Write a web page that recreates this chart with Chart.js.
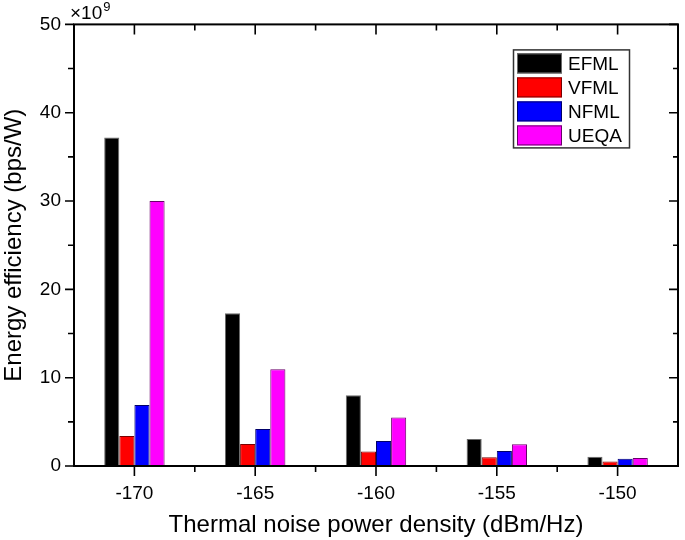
<!DOCTYPE html>
<html><head><meta charset="utf-8">
<script src="https://cdn.jsdelivr.net/npm/chart.js@4/dist/chart.umd.min.js"></script>
<style>html,body{margin:0;padding:0;background:#fff;}#wrap{width:685px;height:540px;}</style>
</head><body><div id="wrap"><canvas id="c" width="685" height="540"></canvas></div>
<script>
const categories = ['-170', '-165', '-160', '-155', '-150'];
const seriesNames = ['EFML', 'VFML', 'NFML', 'UEQA'];
const efml = [37.2, 17.3, 8.0, 3.05, 1.05];
const vfml = [3.4, 2.5, 1.65, 0.98, 0.5];
const nfml = [6.9, 4.2, 2.83, 1.7, 0.83];
const ueqa = [30.0, 10.95, 5.5, 2.45, 0.9];
const yMajorTicks = [0, 10, 20, 30, 40, 50];
const yMinorTicks = [5, 15, 25, 35, 45];
const fillColors = ['#000000', '#ff0000', '#0000ff', '#ff00ff'];
const edgeColors = ['#6a6a6a', '#7a0000', '#00006a', '#6a006a'];

const FONT = 'Arial, "Liberation Sans", sans-serif';

const framePlugin = {
  id: 'frame',
  afterDraw(chart) {
    const ctx = chart.ctx;
    const a = chart.chartArea;
    const xs = chart.scales.x, ys = chart.scales.y;
    ctx.save();
    ctx.strokeStyle = '#000';
    ctx.lineWidth = 2;
    ctx.strokeRect(a.left, a.top, a.right - a.left, a.bottom - a.top);
    ctx.lineWidth = 1.6;
    ctx.beginPath();
    const px = categories.map((c, i) => xs.getPixelForValue(i));
    px.forEach(p => {
      ctx.moveTo(p, a.bottom); ctx.lineTo(p, a.bottom + 10);
      ctx.moveTo(p, a.top); ctx.lineTo(p, a.top + 10);
    });
    for (let i = 0; i < px.length - 1; i++) {
      const m = (px[i] + px[i + 1]) / 2;
      ctx.moveTo(m, a.bottom); ctx.lineTo(m, a.bottom + 6);
      ctx.moveTo(m, a.top); ctx.lineTo(m, a.top + 6);
    }
    yMajorTicks.forEach(v => {
      const p = ys.getPixelForValue(v);
      ctx.moveTo(a.left, p); ctx.lineTo(a.left - 9, p);
      ctx.moveTo(a.right, p); ctx.lineTo(a.right - 9, p);
    });
    yMinorTicks.forEach(v => {
      const p = ys.getPixelForValue(v);
      ctx.moveTo(a.left, p); ctx.lineTo(a.left - 6, p);
      ctx.moveTo(a.right, p); ctx.lineTo(a.right - 5, p);
    });
    ctx.stroke();

    // exponent label
    ctx.fillStyle = '#000';
    ctx.textBaseline = 'alphabetic';
    ctx.textAlign = 'left';
    ctx.font = '19px ' + FONT;
    ctx.fillText('\u00d710', a.left - 4, a.top - 5);
    const w = ctx.measureText('\u00d710').width;
    ctx.font = '13px ' + FONT;
    ctx.fillText('9', a.left - 4 + w + 1, a.top - 13);

    // legend
    const bx = a.right - 165, by = a.top + 25, bw = 116, bh = 98;
    ctx.fillStyle = '#fff';
    ctx.fillRect(bx, by, bw, bh);
    ctx.strokeStyle = '#333';
    ctx.lineWidth = 1.5;
    ctx.strokeRect(bx + 0.5, by + 0.5, bw, bh);
    chart.data.datasets.forEach((ds, i) => {
      const sy = by + 4 + i * 24;
      ctx.fillStyle = ds.backgroundColor;
      ctx.fillRect(bx + 4, sy, 45, 20);
      ctx.strokeStyle = ds.borderColor;
      ctx.lineWidth = 1;
      ctx.strokeRect(bx + 4.5, sy + 0.5, 44, 19);
      ctx.fillStyle = '#000';
      ctx.font = '19px ' + FONT;
      ctx.textBaseline = 'middle';
      ctx.fillText(ds.label, bx + 55, sy + 11);
    });
    ctx.restore();
  }
};

const seriesData = [efml, vfml, nfml, ueqa];
new Chart(document.getElementById('c'), {
  type: 'bar',
  data: {
    labels: categories,
    datasets: seriesNames.map((n, i) => ({
      label: n,
      data: seriesData[i],
      backgroundColor: fillColors[i],
      borderColor: edgeColors[i],
      borderWidth: 1,
      categoryPercentage: 0.5,
      barPercentage: 1.0
    }))
  },
  options: {
    responsive: false,
    devicePixelRatio: 1,
    animation: false,
    layout: { padding: { left: 0, right: 7, top: 24, bottom: 0 } },
    plugins: { legend: { display: false }, tooltip: { enabled: false } },
    scales: {
      x: {
        type: 'category',
        offset: true,
        grid: { display: false, drawTicks: false },
        border: { display: false },
        ticks: { color: '#000', font: { family: FONT, size: 19 }, padding: 16, maxRotation: 0 },
        title: { display: true, text: 'Thermal noise power density (dBm/Hz)', color: '#000',
                 font: { family: FONT, size: 24 }, padding: { top: 0, bottom: 0 } },
        afterFit(s) { s.height = 74; }
      },
      y: {
        min: 0, max: 50,
        grid: { display: false, drawTicks: false },
        border: { display: false },
        ticks: { stepSize: 10, color: '#000', font: { family: FONT, size: 19 }, padding: 13 },
        title: { display: true, text: 'Energy efficiency (bps/W)', color: '#000',
                 font: { family: FONT, size: 24 }, padding: { top: 0, bottom: 0 } },
        afterFit(s) { s.width = 74; }
      }
    }
  },
  plugins: [framePlugin]
});
</script></body></html>
